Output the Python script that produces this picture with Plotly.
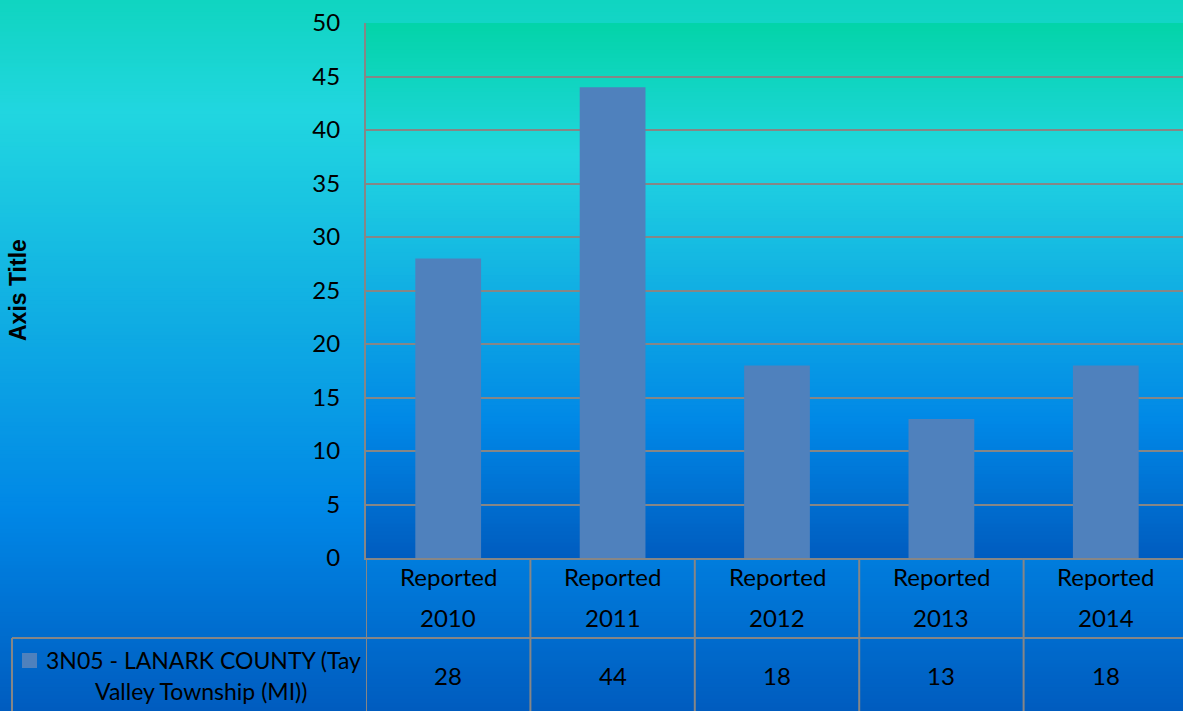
import plotly.graph_objects as go

# ---------------- data ----------------
categories = ["Reported 2010", "Reported 2011", "Reported 2012", "Reported 2013", "Reported 2014"]
cat_line1 = ["Reported", "Reported", "Reported", "Reported", "Reported"]
cat_line2 = ["2010", "2011", "2012", "2013", "2014"]
values = [28, 44, 18, 13, 18]
series_lines = ["3N05 - LANARK COUNTY (Tay", "Valley Township (MI))"]
y_ticks = [0, 5, 10, 15, 20, 25, 30, 35, 40, 45, 50]
axis_title = "Axis Title"

# ---------------- style ----------------
W, H = 1183, 711
FONT = "Lato"
GRID = "#868686"
BAR = "#4F81BD"
STOPS = [(0.0, (3, 212, 168)), (0.25, (33, 214, 224)), (0.75, (0, 135, 230)), (1.0, (0, 92, 191))]


def grad(f):
    f = min(max(f, 0.0), 1.0)
    for (a, ca), (b, cb) in zip(STOPS[:-1], STOPS[1:]):
        if f <= b:
            t = (f - a) / (b - a)
            c = [round(ca[i] + (cb[i] - ca[i]) * t) for i in range(3)]
            return "rgb(%d,%d,%d)" % tuple(c)
    return "rgb(%d,%d,%d)" % STOPS[-1][1]


def py(pix):
    return 1 - pix / H


def px(pix):
    return pix / W


plot_left, plot_top, plot_bottom = 366, 23, 558
band = 164.4
x_range = [-0.5, -0.5 + (W - plot_left) / band]

shapes = []
# paper gradient (extends above the visible top)
N = 180
g_top, g_bot = -86, 711
for i in range(N):
    y0 = i / N
    y1 = (i + 1.6) / N
    mid_pix = H * (1 - (i + 0.5) / N)
    f = (mid_pix - g_top) / (g_bot - g_top)
    shapes.append(dict(type="rect", xref="paper", yref="paper", x0=0, x1=1, y0=y0, y1=min(y1, 1),
                       fillcolor=grad(f), line=dict(width=0), layer="below"))
# plot-area gradient
M = 140
for i in range(M):
    y0 = i / M
    y1 = (i + 1.6) / M
    f = 1 - (i + 0.5) / M
    shapes.append(dict(type="rect", xref="x domain", yref="y domain", x0=0, x1=1, y0=y0, y1=min(y1, 1),
                       fillcolor=grad(f), line=dict(width=0), layer="below"))

# data table lines
line_style = dict(color=GRID, width=2)
for i in range(len(categories)):
    shapes.append(dict(type="line", xref="x", yref="paper", x0=i - 0.5, x1=i - 0.5,
                       y0=0, y1=py(plot_bottom), line=line_style))
shapes.append(dict(type="line", xref="paper", yref="paper", x0=px(12), x1=1,
                   y0=py(638), y1=py(638), line=line_style))
shapes.append(dict(type="line", xref="paper", yref="paper", x0=px(12), x1=px(12),
                   y0=0, y1=py(638), line=line_style))
# legend key
shapes.append(dict(type="rect", xref="paper", yref="paper", x0=px(22), x1=px(37),
                   y0=py(668), y1=py(653), fillcolor=BAR, line=dict(width=0)))

annotations = []
tf = dict(family=FONT, size=24, color="black")
lf = dict(family=FONT, size=23, color="black")
for c, l1, l2, v in zip(categories, cat_line1, cat_line2, values):
    annotations.append(dict(x=c, xref="x", y=py(576), yref="paper", text=l1, showarrow=False,
                            xanchor="center", yanchor="middle", font=tf))
    annotations.append(dict(x=c, xref="x", y=py(617), yref="paper", text=l2, showarrow=False,
                            xanchor="center", yanchor="middle", font=tf))
    annotations.append(dict(x=c, xref="x", y=py(675), yref="paper", text=str(v), showarrow=False,
                            xanchor="center", yanchor="middle", font=tf))
annotations.append(dict(x=px(203), xref="paper", y=py(660), yref="paper", text=series_lines[0],
                        showarrow=False, xanchor="center", yanchor="middle", font=lf))
annotations.append(dict(x=px(201), xref="paper", y=py(691), yref="paper", text=series_lines[1],
                        showarrow=False, xanchor="center", yanchor="middle", font=lf))
annotations.append(dict(x=px(18), xref="paper", y=py(290), yref="paper", text="<b>" + axis_title + "</b>",
                        textangle=-90, showarrow=False, xanchor="center", yanchor="middle",
                        font=dict(family="Liberation Sans", size=23, color="black")))

fig = go.Figure(go.Bar(x=categories, y=values, marker=dict(color=BAR, line=dict(width=0)),
                       name=" ".join(series_lines)))

fig.update_layout(
    width=W, height=H,
    margin=dict(l=0, r=0, t=0, b=0, pad=0),
    paper_bgcolor="rgb(0,92,191)",
    plot_bgcolor="rgba(0,0,0,0)",
    showlegend=False,
    bargap=0.6,
    shapes=shapes,
    annotations=annotations,
    xaxis=dict(domain=[px(plot_left), 1], range=x_range, showticklabels=False, ticks="",
               showgrid=False, zeroline=False, showline=True, linecolor=GRID, linewidth=2,
               fixedrange=True, automargin=False),
    yaxis=dict(domain=[py(plot_bottom), py(plot_top)], range=[0, 50], tickvals=y_ticks,
               ticks="", ticklabelstandoff=19, tickfont=tf, showgrid=True, gridcolor=GRID,
               gridwidth=2, zeroline=False, showline=True, linecolor=GRID, linewidth=2,
               fixedrange=True, automargin=False),
)

fig.write_html(
    "out.html",
    config={"displayModeBar": False},
    post_script="document.body.style.margin='0';document.body.style.padding='0';"
                "document.documentElement.style.overflow='hidden';",
)
